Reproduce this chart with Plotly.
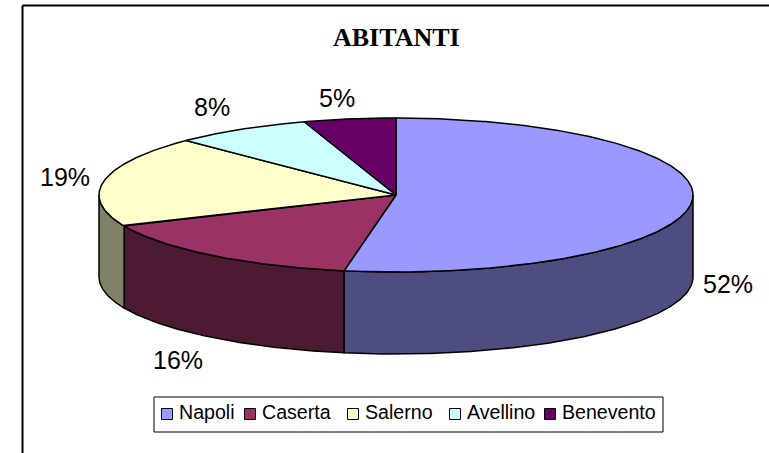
import numpy as np
import plotly.graph_objects as go

# ---- data ----
categories = ["Napoli", "Caserta", "Salerno", "Avellino", "Benevento"]
shares = [52.8, 15.6, 19.1, 7.5, 5.0]          # measured slice sizes
percent_labels = ["52%", "16%", "19%", "8%", "5%"]
title_text = "ABITANTI"

# ---- styles ----
top_colors = ["#9999FF", "#993366", "#FFFFCC", "#CCFFFF", "#660066"]
side_colors = ["#4D4D80", "#4D1A33", "#808066", "#668080", "#330033"]

# ---- layout (pixel space) ----
W, H = 769, 453
CX, CY, RX, RY, DEPTH = 396, 195, 297, 77, 82
LABEL_POS = [(728, 284), (178, 360), (65, 177), (212, 107), (337, 98)]
LEG_BOX = (154, 397, 663, 432)
LEG_SWATCH_X = [167, 250, 353, 455, 550]
LEG_TEXT_X = [179, 262, 365, 467, 562]
LEG_Y = 414
EDGE = dict(color="black", width=1.5)


def rim(a0, a1, dy=0.0):
    """Ellipse rim between clockwise-from-top angles (degrees)."""
    n = max(2, int(abs(a1 - a0) * 2))
    t = np.radians(np.linspace(a0, a1, n))
    return CX + RX * np.sin(t), CY - RY * np.cos(t) + dy


fig = go.Figure()
edges = np.concatenate([[0], np.cumsum(shares)]) * 3.6

# Side walls: only the front half of the disc (90..270 degrees) is visible.
for name, a0, a1, col in zip(categories, edges[:-1], edges[1:], side_colors):
    lo, hi = max(a0, 90), min(a1, 270)
    if lo >= hi:
        continue
    xt, yt = rim(lo, hi)
    xb, yb = rim(hi, lo, DEPTH)
    fig.add_trace(go.Scatter(
        x=np.r_[xt, xb, xt[0]], y=np.r_[yt, yb, yt[0]], mode="lines",
        fill="toself", fillcolor=col, line=EDGE, showlegend=False,
        hoverinfo="skip"))

# Top faces.
for name, a0, a1, col, lab in zip(categories, edges[:-1], edges[1:], top_colors, percent_labels):
    xt, yt = rim(a0, a1)
    fig.add_trace(go.Scatter(
        x=np.r_[CX, xt, CX], y=np.r_[CY, yt, CY], mode="lines",
        fill="toself", fillcolor=col, line=EDGE, name=name, showlegend=False,
        hoverinfo="text", hovertext=f"{name}: {lab}"))

# Legend box, swatches and entries.
fig.add_shape(type="rect", x0=LEG_BOX[0], y0=LEG_BOX[1], x1=LEG_BOX[2], y1=LEG_BOX[3],
              line=dict(color="black", width=1), fillcolor="white", layer="below")
fig.add_trace(go.Scatter(
    x=LEG_SWATCH_X, y=[LEG_Y] * len(categories), mode="markers", showlegend=False,
    hoverinfo="skip",
    marker=dict(symbol="square", size=11, color=top_colors,
                line=dict(color="black", width=1))))
for name, x in zip(categories, LEG_TEXT_X):
    fig.add_annotation(x=x, y=LEG_Y - 2, text=name, showarrow=False, xanchor="left", yanchor="middle",
                       font=dict(family="Liberation Sans", size=19.6, color="black"),
                       borderpad=0, borderwidth=0)

# Percent labels.
for lab, (x, y) in zip(percent_labels, LABEL_POS):
    fig.add_annotation(x=x, y=y, text=lab, showarrow=False,
                       font=dict(family="Liberation Sans", size=25, color="black"))

# Chart frame: top and left edges only are visible in the reference.
fig.add_shape(type="line", x0=22.5, y0=5.5, x1=W, y1=5.5, line=dict(color="black", width=2))
fig.add_shape(type="line", x0=22.5, y0=5.5, x1=22.5, y1=H, line=dict(color="black", width=2))

fig.add_annotation(x=396, y=37, text=f"<b>{title_text}</b>", showarrow=False,
                   font=dict(family="Liberation Serif", size=26, color="black"))

fig.update_layout(
    width=W, height=H, margin=dict(l=0, r=0, t=0, b=0),
    paper_bgcolor="white", plot_bgcolor="white", showlegend=False,
    xaxis=dict(range=[0, W], visible=False, fixedrange=True),
    yaxis=dict(range=[H, 0], visible=False, fixedrange=True),
)

fig.write_html("out.html", config={"displayModeBar": False},
               post_script="document.body.style.margin='0';document.documentElement.style.overflow='hidden';")
